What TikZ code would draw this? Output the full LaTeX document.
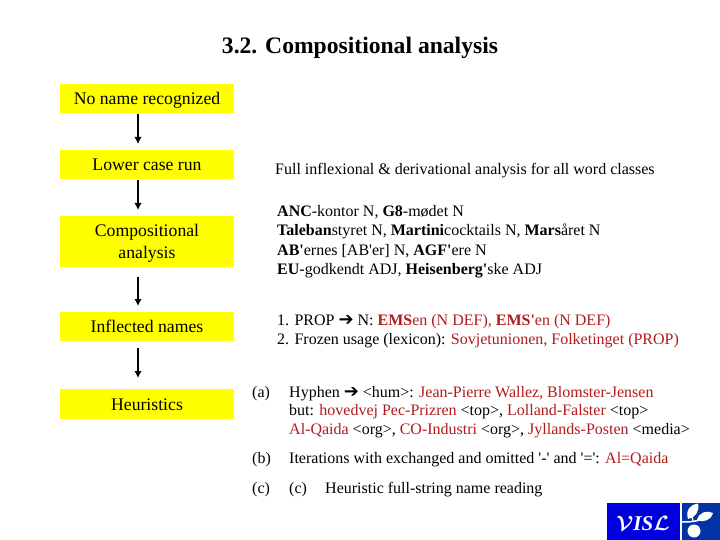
\documentclass[tikz,border=0pt]{standalone}
\usepackage{fontspec}
\setmainfont{Liberation Serif}
\newfontfamily\symf{DejaVu Sans}
\newfontfamily\qf{Liberation Serif}
\definecolor{boxyellow}{RGB}{255,255,0}
\definecolor{namered}{RGB}{176,28,28}
\definecolor{visllight}{RGB}{0,0,222}
\definecolor{visldark}{RGB}{5,50,165}
\newcommand{\rd}[1]{\textcolor{namered}{#1}}
\newcommand{\arw}{{\symf\fontsize{18}{18}\selectfont ➔}}
\newcommand{\sq}{{\qf '}}
\newcommand{\lw}[1]{\raisebox{-2pt}[11pt][3pt]{#1}}
\usetikzlibrary{arrows.meta}
\tikzset{
 flowbox/.style={fill=boxyellow,draw=none,minimum width=174pt,inner sep=0pt,align=center,anchor=north,font=\fontsize{17.7}{22}\selectfont},
 flowarrow/.style={draw=black,line width=2pt,-{Latex[length=7pt,width=7.5pt]}},
 txt/.style={anchor=base west,inner sep=0pt,font=\fontsize{16}{19}\selectfont},
 titletxt/.style={anchor=base,inner sep=0pt,font=\fontsize{23.6}{25}\selectfont\bfseries}
}
\begin{document}
\begin{tikzpicture}[x=1pt,y=-1pt]
\useasboundingbox (0,0) rectangle (720,540);
\node[titletxt] (title) at (360,54) {3.2. Compositional analysis};
\coordinate (ax) at (138,0);
\node[flowbox,minimum height=29pt] (b1) at (147,84) {\lw{No name recognized}};
\node[flowbox,minimum height=29pt] (b2) at (147,150) {\lw{Lower case run}};
\node[flowbox,minimum height=51pt] (b3) at (147,216) {\lw{Compositional}\\\lw{analysis}};
\node[flowbox,minimum height=29pt] (b4) at (147,312) {\lw{Inflected names}};
\node[flowbox,minimum height=30pt] (b5) at (147,389) {\lw{Heuristics}};
\draw[flowarrow,shorten <=1pt,shorten >=6pt] (b1.south -| ax) -- (b2.north -| ax);
\draw[flowarrow,shorten <=1pt,shorten >=6pt] (b2.south -| ax) -- (b3.north -| ax);
\draw[flowarrow,shorten <=10pt,shorten >=6pt] (b3.south -| ax) -- (b4.north -| ax);
\draw[flowarrow,shorten <=7pt,shorten >=11pt] (b4.south -| ax) -- (b5.north -| ax);
\node[txt] (t1) at (275,175) {Full inflexional \& derivational analysis for all word classes};
\node[txt] (t2) at (277,217) {\textbf{ANC}-kontor N, \textbf{G8}-mødet N};
\node[txt] (t3) at (277,236) {\textbf{Taleban}styret N, \textbf{Martini}cocktails N, \textbf{Mars}året N};
\node[txt] (t4) at (277,255) {\textbf{AB\sq}ernes [AB\sq er] N, \textbf{AGF\sq}ere N};
\node[txt] (t5) at (277,274) {\textbf{EU}-godkendt ADJ, \textbf{Heisenberg\sq}ske ADJ};
\node[txt] (t6) at (277,325) {1. PROP \arw{} N: \rd{\textbf{EMS}en (N DEF), \textbf{EMS\sq}en (N DEF)}};
\node[txt] (t7) at (277,344) {2. Frozen usage (lexicon): \rd{Sovjetunionen, Folketinget (PROP)}};
\node[txt] (la) at (252,397) {(a)};
\node[txt] (t8) at (289,397) {Hyphen \arw{} <hum>: \rd{Jean-Pierre Wallez, Blomster-Jensen}};
\node[txt] (t9) at (289,415) {but: \rd{hovedvej Pec-Prizren} <top>, \rd{Lolland-Falster} <top>};
\node[txt] (t10) at (289,434) {\rd{Al-Qaida} <org>, \rd{CO-Industri} <org>, \rd{Jyllands-Posten} <media>};
\node[txt] (lb) at (252,463) {(b)};
\node[txt] (t11) at (289,463) {Iterations with exchanged and omitted \sq-\sq{} and \sq=\sq: \rd{Al=Qaida}};
\node[txt] (lc) at (252,493) {(c)};
\node[txt] (t12) at (289,493) {(c)};
\node[txt] (t13) at (325,493) {Heuristic full-string name reading};
% logo
\fill[visllight] (607,503) rectangle (680,540);
\fill[visldark] (682,503) rectangle (720,540);
\node[anchor=base,inner sep=0pt,text=white,font=\fontsize{21}{21}\selectfont\itshape\bfseries\boldmath] (vis) at (643,530) {$\mathcal{V}$IS$\mathcal{L}$};
\begin{scope}[white]
\draw[line width=1.5pt] (682,522) .. controls (688,522) and (695,522) .. (702,519);
\draw[line width=1.2pt] (693,521) -- (692,517);
\fill (698,503.5) .. controls (691,504) and (685,510) .. (688,519) .. controls (695,518) and (700,511) .. (698,503.5) -- cycle;
\fill (713,513) .. controls (707,510) and (699,512) .. (697,520) .. controls (704,523) and (711,520) .. (713,513) -- cycle;
\fill (694,531) circle (6.5pt);
\end{scope}
\end{tikzpicture}
\end{document}
